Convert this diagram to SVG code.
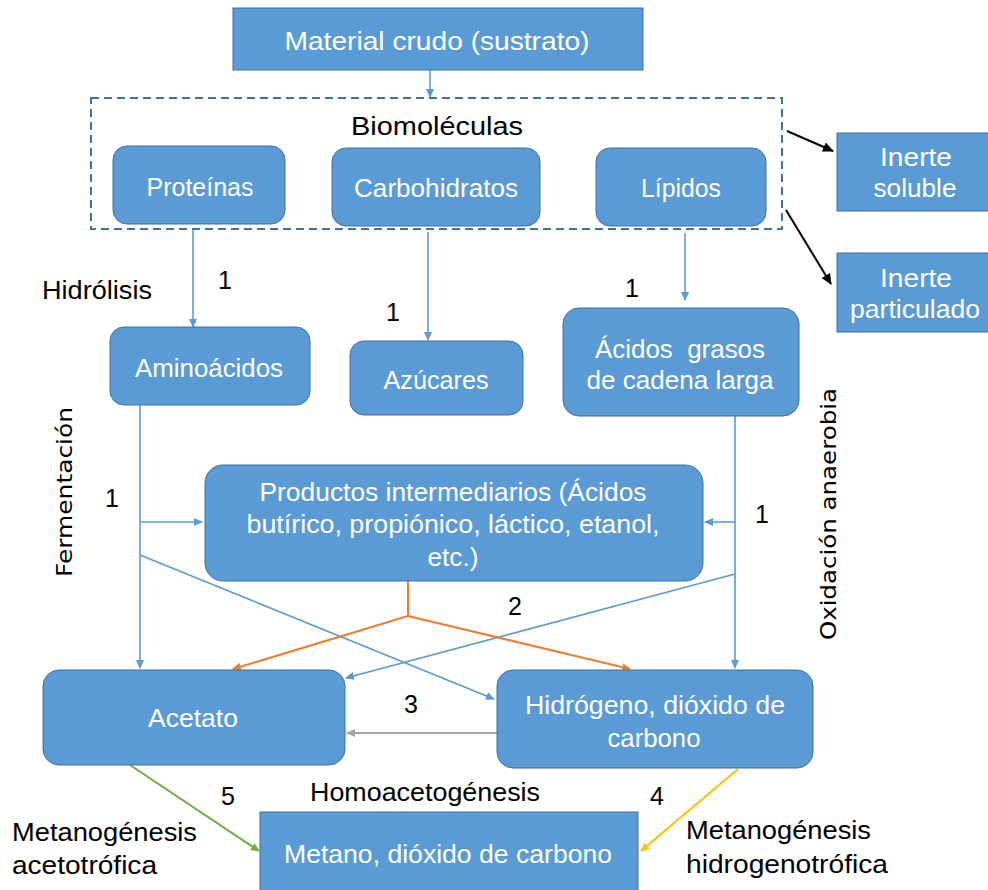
<svg xmlns="http://www.w3.org/2000/svg" width="988" height="890" viewBox="0 0 988 890">
<style>
.box{fill:#5B9BD5;stroke:#41719C;stroke-width:1}
.t{font-family:"Liberation Sans",Arial,sans-serif;fill:#fff;font-size:25px;text-anchor:middle}
.k{font-family:"Liberation Sans",Arial,sans-serif;fill:#000;font-size:25px}
.r{font-family:"DejaVu Sans",Verdana,sans-serif;fill:#000;font-size:22px;text-anchor:middle}
.c{fill:none;stroke-width:1.6}
.b{stroke:#5B9BD5}.o{stroke:#ED7D31;stroke-width:2}.g{stroke:#A5A5A5;stroke-width:2}.gr{stroke:#70AD47;stroke-width:2}.y{stroke:#FFC000;stroke-width:2}.bk{stroke:#000;stroke-width:2}
</style>
<defs>
<marker id="mb" markerWidth="10" markerHeight="10" refX="8" refY="5" orient="auto" markerUnits="userSpaceOnUse"><path d="M0,1 L9,5 L0,9 z" fill="#5B9BD5"/></marker>
<marker id="mo" markerWidth="10" markerHeight="10" refX="8" refY="5" orient="auto" markerUnits="userSpaceOnUse"><path d="M0,1 L9,5 L0,9 z" fill="#ED7D31"/></marker>
<marker id="mg" markerWidth="10" markerHeight="10" refX="8" refY="5" orient="auto" markerUnits="userSpaceOnUse"><path d="M0,1 L9,5 L0,9 z" fill="#A5A5A5"/></marker>
<marker id="mgr" markerWidth="10" markerHeight="10" refX="8" refY="5" orient="auto" markerUnits="userSpaceOnUse"><path d="M0,1 L9,5 L0,9 z" fill="#70AD47"/></marker>
<marker id="my" markerWidth="10" markerHeight="10" refX="8" refY="5" orient="auto" markerUnits="userSpaceOnUse"><path d="M0,1 L9,5 L0,9 z" fill="#FFC000"/></marker>
<marker id="mk" markerWidth="12" markerHeight="12" refX="10" refY="6" orient="auto" markerUnits="userSpaceOnUse"><path d="M0,1 L11,6 L0,11 z" fill="#000"/></marker>
</defs>
<rect width="988" height="890" fill="#fff"/>

<g id="connectors">
<line class="c b" x1="430" y1="70" x2="430" y2="97" marker-end="url(#mb)"/>
<line class="c bk" x1="787" y1="131" x2="833" y2="151" marker-end="url(#mk)"/>
<line class="c bk" x1="786" y1="210" x2="831" y2="284" marker-end="url(#mk)"/>
<line class="c b" x1="193" y1="228" x2="193" y2="327" marker-end="url(#mb)"/>
<line class="c b" x1="428" y1="232" x2="428" y2="340" marker-end="url(#mb)"/>
<line class="c b" x1="685" y1="233" x2="685" y2="300" marker-end="url(#mb)"/>
<line class="c b" x1="140" y1="405" x2="140" y2="668" marker-end="url(#mb)"/>
<line class="c b" x1="140" y1="522" x2="202" y2="522" marker-end="url(#mb)"/>
<line class="c b" x1="140" y1="555" x2="494" y2="699" marker-end="url(#mb)"/>
<line class="c b" x1="735" y1="416" x2="735" y2="668" marker-end="url(#mb)"/>
<line class="c b" x1="735" y1="522" x2="705" y2="522" marker-end="url(#mb)"/>
<line class="c b" x1="735" y1="574" x2="346" y2="678" marker-end="url(#mb)"/>
<polyline class="c o" points="408,581 408,616 233,669" marker-end="url(#mo)"/>
<polyline class="c o" points="408,616 630,669" marker-end="url(#mo)"/>
<line class="c g" x1="497" y1="733" x2="347" y2="733" marker-end="url(#mg)"/>
<line class="c gr" x1="130" y1="765" x2="259" y2="851" marker-end="url(#mgr)"/>
<line class="c y" x1="738" y1="769" x2="641" y2="851" marker-end="url(#my)"/>
</g>

<g id="material"><rect class="box" x="233" y="8" width="410" height="62"/><text class="t" x="437" y="50" font-size="27" textLength="305" lengthAdjust="spacingAndGlyphs">Material crudo (sustrato)</text></g>

<g id="biomoleculas"><rect x="91" y="98" width="691" height="131" fill="none" stroke="#41719C" stroke-width="2" stroke-dasharray="8,5"/><text class="k" x="437" y="135" font-size="28" text-anchor="middle" textLength="172" lengthAdjust="spacingAndGlyphs">Biomoléculas</text></g>

<g id="proteinas"><rect class="box" x="113" y="146" width="172" height="78" rx="14"/><text class="t" x="200" y="196" textLength="107" lengthAdjust="spacingAndGlyphs">Proteínas</text></g>
<g id="carbohidratos"><rect class="box" x="332" y="148" width="208" height="78" rx="14"/><text class="t" x="436" y="197" textLength="164" lengthAdjust="spacingAndGlyphs">Carbohidratos</text></g>
<g id="lipidos"><rect class="box" x="596" y="148" width="170" height="78" rx="14"/><text class="t" x="681" y="197" textLength="80" lengthAdjust="spacingAndGlyphs">Lípidos</text></g>

<g id="inerte-soluble"><rect class="box" x="837" y="133" width="152" height="78"/><text class="t" x="916" y="166" textLength="72" lengthAdjust="spacingAndGlyphs">Inerte</text><text class="t" x="915" y="197" textLength="83" lengthAdjust="spacingAndGlyphs">soluble</text></g>
<g id="inerte-particulado"><rect class="box" x="837" y="253" width="152" height="79"/><text class="t" x="916" y="287" textLength="72" lengthAdjust="spacingAndGlyphs">Inerte</text><text class="t" x="915" y="318" textLength="130" lengthAdjust="spacingAndGlyphs">particulado</text></g>

<g id="aminoacidos"><rect class="box" x="110" y="327" width="200" height="78" rx="14"/><text class="t" x="209" y="377" textLength="148" lengthAdjust="spacingAndGlyphs">Aminoácidos</text></g>
<g id="azucares"><rect class="box" x="350" y="341" width="173" height="74" rx="14"/><text class="t" x="436" y="389" textLength="105" lengthAdjust="spacingAndGlyphs">Azúcares</text></g>
<g id="acidos-grasos"><rect class="box" x="563" y="308" width="236" height="108" rx="16"/><text class="t" x="680" y="358" style="white-space:pre" textLength="170" lengthAdjust="spacingAndGlyphs">Ácidos  grasos</text><text class="t" x="680" y="389" textLength="187" lengthAdjust="spacingAndGlyphs">de cadena larga</text></g>

<g id="productos"><rect class="box" x="205" y="465" width="498" height="116" rx="18"/><text class="t" x="453" y="501" textLength="387" lengthAdjust="spacingAndGlyphs">Productos intermediarios (Ácidos</text><text class="t" x="453" y="533" textLength="413" lengthAdjust="spacingAndGlyphs">butírico, propiónico, láctico, etanol,</text><text class="t" x="453" y="566" textLength="51" lengthAdjust="spacingAndGlyphs">etc.)</text></g>

<g id="acetato"><rect class="box" x="43" y="670" width="302" height="95" rx="16"/><text class="t" x="193" y="727" textLength="90" lengthAdjust="spacingAndGlyphs">Acetato</text></g>
<g id="hidrogeno"><rect class="box" x="497" y="670" width="316" height="98" rx="16"/><text class="t" x="655" y="714" textLength="260" lengthAdjust="spacingAndGlyphs">Hidrógeno, dióxido de</text><text class="t" x="654" y="747" textLength="93" lengthAdjust="spacingAndGlyphs">carbono</text></g>
<g id="metano"><rect class="box" x="260" y="812" width="378" height="80"/><text class="t" x="448" y="863" textLength="328" lengthAdjust="spacingAndGlyphs">Metano, dióxido de carbono</text></g>

<g id="labels">
<text class="k" x="42" y="299" textLength="110" lengthAdjust="spacingAndGlyphs">Hidrólisis</text>
<text class="k" x="218" y="289">1</text>
<text class="k" x="386" y="321">1</text>
<text class="k" x="625" y="297">1</text>
<text class="k" x="105" y="507">1</text>
<text class="k" x="755" y="523">1</text>
<text class="k" x="508" y="615">2</text>
<text class="k" x="404" y="713">3</text>
<text class="k" x="221" y="805">5</text>
<text class="k" x="650" y="805">4</text>
<text class="k" x="310" y="801" textLength="230" lengthAdjust="spacingAndGlyphs">Homoacetogénesis</text>
<text class="k" x="12" y="841" textLength="185" lengthAdjust="spacingAndGlyphs">Metanogénesis</text>
<text class="k" x="12" y="874" textLength="145" lengthAdjust="spacingAndGlyphs">acetotrófica</text>
<text class="k" x="686" y="839" textLength="185" lengthAdjust="spacingAndGlyphs">Metanogénesis</text>
<text class="k" x="686" y="873" textLength="202" lengthAdjust="spacingAndGlyphs">hidrogenotrófica</text>
<text class="r" transform="translate(72,492) rotate(-90)" textLength="170" lengthAdjust="spacingAndGlyphs">Fermentación</text>
<text class="r" transform="translate(836,514) rotate(-90)" textLength="252" lengthAdjust="spacingAndGlyphs">Oxidación anaerobia</text>
</g>
</svg>
